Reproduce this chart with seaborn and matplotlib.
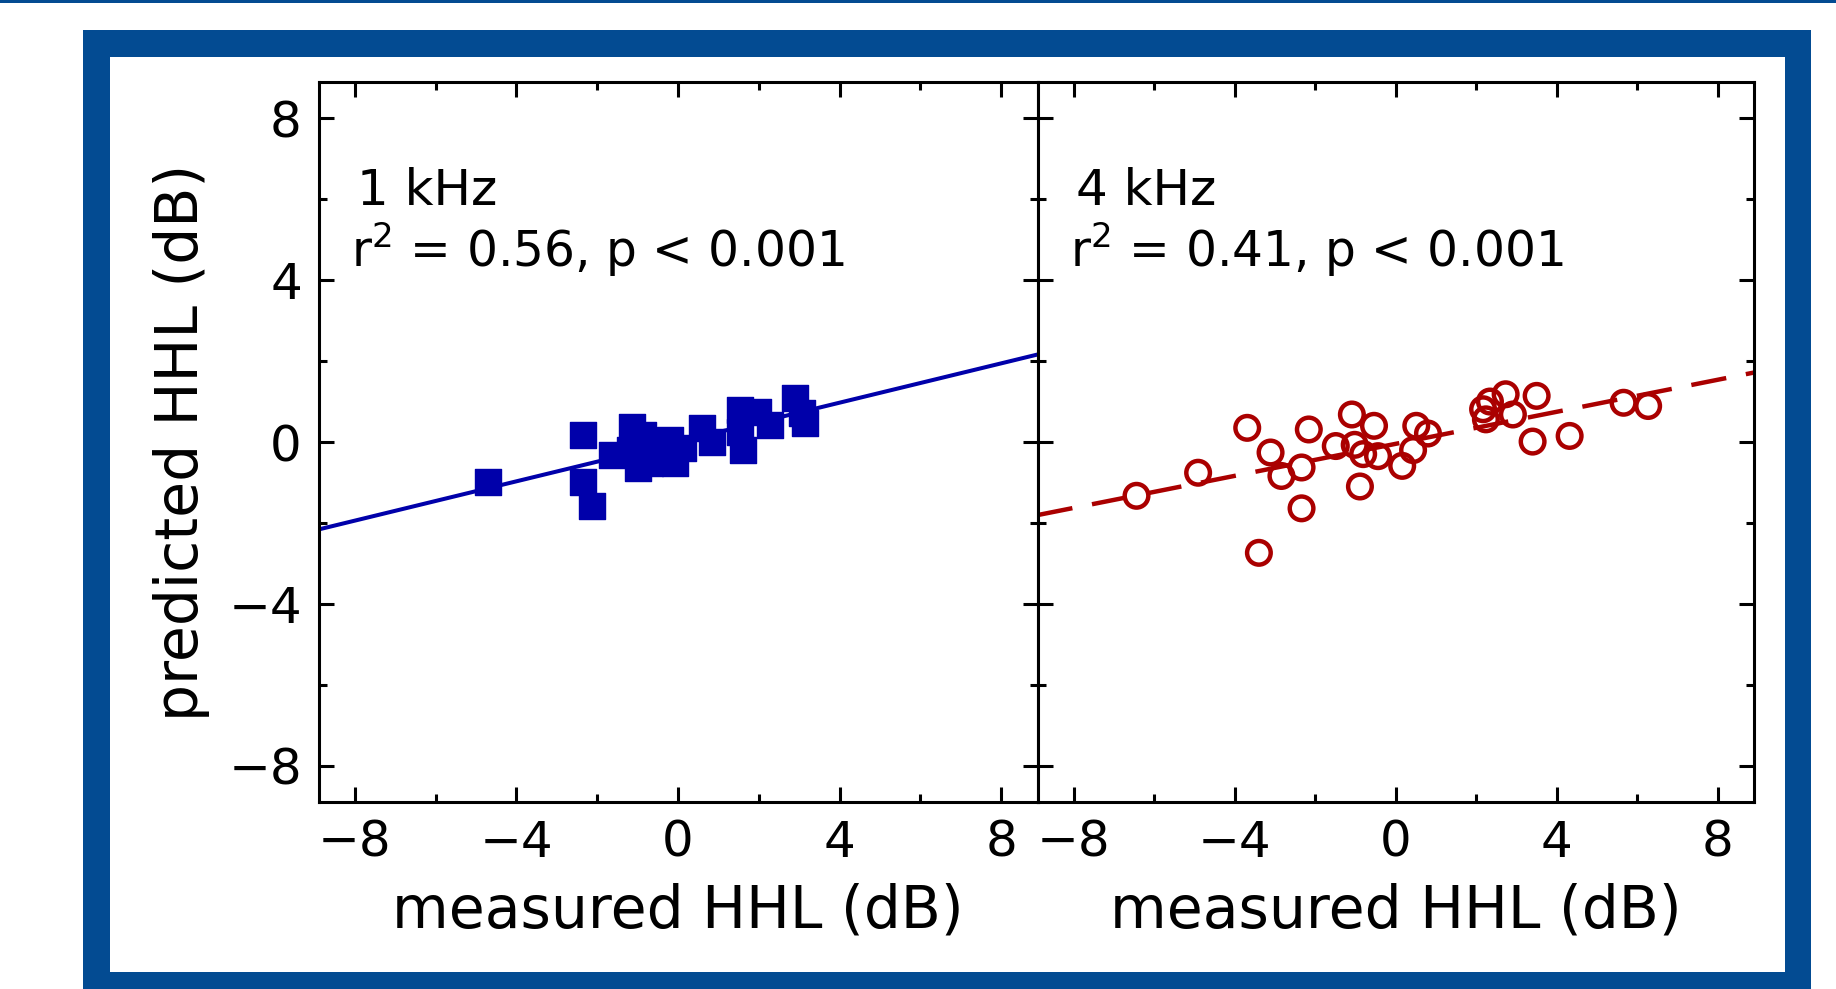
import numpy as np
import matplotlib
matplotlib.use("Agg")
import matplotlib.pyplot as plt
import seaborn as sns
from matplotlib.patches import Rectangle

# measured vs predicted HHL (dB)
x_1k = [-4.70, -2.34, -2.34, -2.14, -1.64, -1.13, -0.86, -1.00, -0.69, -0.20,
        -0.07, 0.13, 0.60, 0.83, 1.53, 1.53, 1.62, 1.99, 2.28, 2.90,
        3.06, 3.14, -0.45, -1.19]
y_1k = [-0.98, 0.17, -1.00, -1.58, -0.32, 0.38, 0.17, -0.65, -0.53, 0.05,
        -0.53, -0.16, 0.35, 0.00, 0.79, 0.25, -0.20, 0.75, 0.42, 1.08,
        0.71, 0.46, -0.20, -0.20]

x_4k = [-6.44, -4.91, -3.69, -3.40, -3.11, -2.84, -2.34, -2.34, -2.16, -1.49,
        -1.09, -0.89, -0.81, -1.02, -0.54, -0.44, 0.16, 0.43, 0.51, 0.80,
        2.17, 2.24, 2.34, 2.73, 2.91, 3.50, 3.40, 4.32, 5.66, 6.27]
y_4k = [-1.33, -0.76, 0.35, -2.74, -0.26, -0.84, -0.63, -1.64, 0.31, -0.10,
        0.68, -1.10, -0.30, -0.07, 0.40, -0.35, -0.59, -0.20, 0.40, 0.21,
        0.81, 0.56, 1.00, 1.18, 0.68, 1.14, 0.01, 0.15, 0.97, 0.89]

# regression lines (slope, intercept)
fit_1k = (0.243, 0.0)
fit_4k = (0.198, -0.045)

labels = ["1 kHz", "4 kHz"]
stats = [r"r$^{2}$ = 0.56, p < 0.001", r"r$^{2}$ = 0.41, p < 0.001"]
ticks = [-8, -4, 0, 4, 8]
minor_ticks = [-6, -2, 2, 6]
lim = (-8.9, 8.9)

BLUE = "#034b92"
SQ = "#0000aa"
RED = "#aa0000"

sns.set_theme(style="ticks")
plt.rcParams["font.family"] = ["DejaVu Sans"]
plt.rcParams["mathtext.fontset"] = "dejavusans"
plt.rcParams["text.color"] = "black"
plt.rcParams["axes.labelcolor"] = "black"
plt.rcParams["xtick.labelcolor"] = "black"
plt.rcParams["ytick.labelcolor"] = "black"

W, H = 1836, 989
fig = plt.figure(figsize=(W / 100, H / 100), dpi=100)
fig.patch.set_facecolor("white")


def fx(px):
    return px / W


def fy(py):
    return 1 - py / H


def frame_rect(x0, y0, x1, y1):
    fig.add_artist(Rectangle((fx(x0), fy(y1)), fx(x1) - fx(x0), fy(y0) - fy(y1),
                             transform=fig.transFigure, color=BLUE, lw=0, zorder=0))


# blue frame
frame_rect(0, 0, W, 3)
frame_rect(83, 30, 1810.7, 57)
frame_rect(83, 30, 110, H + 5)
frame_rect(1785, 30, 1810.7, H + 5)
frame_rect(83, 971.7, 1810.7, H + 5)

ax1 = fig.add_axes([fx(318.5), fy(802), fx(1037.5) - fx(318.5), fy(82) - fy(802)])
ax2 = fig.add_axes([fx(1037.5), fy(802), fx(1754) - fx(1037.5), fy(82) - fy(802)])

# 1 kHz
sns.scatterplot(x=x_1k, y=y_1k, ax=ax1, marker="s", s=361, color=SQ,
                linewidth=1, edgecolor=SQ, zorder=3)
xs = np.array(lim)
sns.lineplot(x=xs, y=fit_1k[0] * xs + fit_1k[1], ax=ax1, color=SQ, lw=2.9, zorder=2)

# 4 kHz
sns.scatterplot(x=x_4k, y=y_4k, ax=ax2, marker="o", s=289, zorder=3)
coll = ax2.collections[-1]
coll.set_facecolor("none")
coll.set_edgecolor(RED)
coll.set_linewidth(3.2)
sns.lineplot(x=xs, y=fit_4k[0] * xs + fit_4k[1], ax=ax2, color=RED, lw=3.2, zorder=2)
ax2.lines[-1].set_dashes((8, 4.5))

for ax, lab, st in zip((ax1, ax2), labels, stats):
    ax.set_xlim(lim)
    ax.set_ylim(lim)
    ax.set_xticks(ticks)
    ax.set_yticks(ticks)
    ax.set_xticks(minor_ticks, minor=True)
    ax.set_yticks(minor_ticks, minor=True)
    ax.tick_params(which="both", direction="in", top=True, right=True,
                   width=2.2, color="black")
    ax.tick_params(which="major", length=10.8, labelsize=36, pad=12)
    ax.tick_params(which="minor", length=5.8)
    for sp in ax.spines.values():
        sp.set_linewidth(2.2)
        sp.set_color("black")
    ax.set_facecolor("white")
    ax.set_xlabel("measured HHL (dB)", fontsize=42)
    ax.xaxis.set_label_coords(0.5, -0.112)
    ax.text(-7.95, 5.86, lab, fontsize=36, va="baseline")
    ax.text(-8.1, 4.33, st, fontsize=35, va="baseline")

ax1.set_ylabel("predicted HHL (dB)", fontsize=42, labelpad=13)
ax2.tick_params(labelleft=False)

fig.savefig("out.png", dpi=100)
